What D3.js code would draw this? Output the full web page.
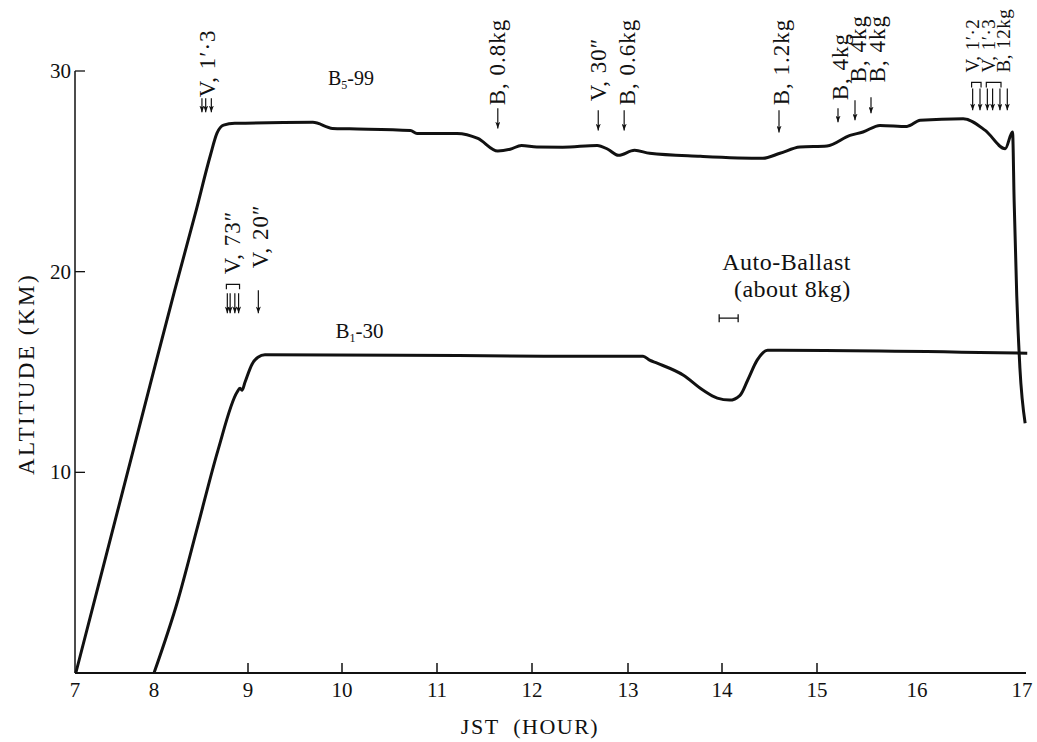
<!DOCTYPE html>
<html>
<head>
<meta charset="utf-8">
<script src="https://cdn.jsdelivr.net/npm/d3@7"></script>
<style>
body { margin: 0; background: #fff; }
text { font-family: "Liberation Serif", "DejaVu Serif", serif; fill: #111; }
</style>
</head>
<body>
<svg id="chart" width="1037" height="742"></svg>
<script>
// balloon B5-99 (hour, km)
var b5Time = [7.01, 7.33, 7.64, 7.95, 8.22, 8.44, 8.60, 8.67, 8.74, 8.86, 9.69, 9.90, 10.08, 10.72, 10.79, 11.21, 11.43, 11.64, 11.77, 11.89, 12.05, 12.32, 12.68, 12.79, 12.90, 13.07, 13.23, 13.77, 14.43, 14.61, 14.82, 15.10, 15.33, 15.46, 15.63, 15.90, 16.03, 16.44, 16.65, 16.84, 16.91, 16.925, 16.95, 16.98, 17.03];
var b5Alt  = [0, 4.88, 9.61, 14.34, 19.07, 22.9, 25.8, 26.9, 27.3, 27.39, 27.44, 27.14, 27.12, 27.04, 26.89, 26.89, 26.64, 26.01, 26.1, 26.29, 26.21, 26.2, 26.29, 26.1, 25.8, 26.05, 25.9, 25.75, 25.65, 25.9, 26.21, 26.26, 26.79, 26.96, 27.29, 27.24, 27.54, 27.62, 27.04, 26.13, 26.96, 23.56, 18.8, 15.2, 12.45];

// balloon B1-30
var b1Time = [8.0, 8.255, 8.468, 8.681, 8.883, 8.915, 8.936, 8.968, 9.043, 9.106, 9.18, 10.61, 12.19, 13.16, 13.23, 13.31, 13.59, 13.80, 13.95, 14.08, 14.19, 14.27, 14.37, 14.48, 14.61, 17.05];
var b1Alt  = [0, 3.64, 7.37, 11.11, 13.99, 14.19, 14.09, 14.49, 15.39, 15.74, 15.86, 15.84, 15.79, 15.79, 15.59, 15.44, 14.84, 14.09, 13.70, 13.60, 13.84, 14.59, 15.59, 16.09, 16.09, 15.94];

var xTicks = [7, 8, 9, 10, 11, 12, 13, 14, 15, 16, 17];
var xTickMarks = [9, 10, 11, 12, 13, 14, 15];
var yTicks = [10, 20, 30];

// event arrows: time, start altitude, tip altitude
var arrowTime = [8.51, 8.55, 8.61, 11.64, 12.69, 12.96, 14.6, 15.21, 15.38, 15.54,
                 16.53, 16.60, 16.67, 16.72, 16.79, 16.86,
                 8.78, 8.81, 8.86, 8.90, 9.11];
var arrowTop  = [28.64, 28.64, 28.64, 28.14, 28.04, 28.04, 28.04, 28.14, 28.54, 28.69,
                 29.13, 29.13, 29.13, 29.13, 29.13, 29.13,
                 18.92, 18.92, 18.92, 18.92, 19.07];
var arrowTip  = [27.94, 27.94, 27.94, 27.14, 27.04, 27.04, 26.94, 27.44, 27.54, 27.89,
                 28.04, 28.04, 28.04, 28.04, 28.04, 28.04,
                 17.93, 17.93, 17.93, 17.93, 17.93];

// vertical event labels
var labelText = ["V, 1\u2032\u00b73", "B, 0.8kg", "V, 30\u2033", "B, 0.6kg", "B, 1.2kg", "B, 4kg", "B, 4kg", "B, 4kg",
                 "V, 1\u2032\u00b72", "V, 1\u2032\u00b73", "B, 12kg", "V, 73\u2033", "V, 20\u2033"];
var labelTime = [8.57, 11.64, 12.69, 12.99, 14.63, 15.23, 15.41, 15.6, 16.53, 16.68, 16.82, 8.84, 9.13];
var labelAlt  = [28.69, 28.29, 28.49, 28.29, 28.29, 28.54, 29.43, 29.43, 29.93, 29.93, 29.93, 19.87, 20.17];
var labelSmall = [false, false, false, false, false, false, false, false, true, true, true, false, false];

// brackets over arrow groups
var bracketFrom = [16.52, 16.66, 8.77];
var bracketTo   = [16.61, 16.80, 8.91];
var bracketAlt  = [29.43, 29.43, 19.37];

// auto-ballast period
var ballastFrom = 13.97, ballastTo = 14.17, ballastAlt = 17.68;

var svg = d3.select("#chart");

var x = d3.scaleLinear()
    .domain(xTicks)
    .range([75, 154, 248, 342, 437, 532, 628, 722, 817, 917, 1022]);

var y = d3.scaleLinear()
    .domain([0, 30])
    .range([673, 71]);

// axes
svg.append("line")
    .attr("x1", x(7)).attr("x2", x(17) + 4)
    .attr("y1", y(0)).attr("y2", y(0))
    .attr("stroke", "#111").attr("stroke-width", 2.2);

svg.append("line")
    .attr("x1", x(7)).attr("x2", x(7))
    .attr("y1", y(0)).attr("y2", y(30))
    .attr("stroke", "#111").attr("stroke-width", 1.5);

svg.selectAll(".xtick")
    .data(xTickMarks)
    .enter()
    .append("line")
    .attr("class", "xtick")
    .attr("x1", d => x(d)).attr("x2", d => x(d))
    .attr("y1", y(0)).attr("y2", y(0) - 10)
    .attr("stroke", "#111").attr("stroke-width", 1.5);

svg.selectAll(".xlab")
    .data(xTicks)
    .enter()
    .append("text")
    .attr("class", "xlab")
    .attr("x", d => x(d))
    .attr("y", y(0) + 24)
    .attr("text-anchor", "middle")
    .style("font-size", "21px")
    .text(d => d);

svg.selectAll(".ytick")
    .data(yTicks)
    .enter()
    .append("line")
    .attr("class", "ytick")
    .attr("x1", x(7)).attr("x2", x(7) + 10)
    .attr("y1", d => y(d)).attr("y2", d => y(d))
    .attr("stroke", "#111").attr("stroke-width", 1.3);

svg.selectAll(".ylab")
    .data(yTicks)
    .enter()
    .append("text")
    .attr("class", "ylab")
    .attr("x", x(7) - 4)
    .attr("y", d => y(d) + 7)
    .attr("text-anchor", "end")
    .style("font-size", "21px")
    .text(d => d);

svg.append("text")
    .attr("x", 530)
    .attr("y", 734)
    .attr("text-anchor", "middle")
    .style("font-size", "22px")
    .style("letter-spacing", "1.5px")
    .style("white-space", "pre")
    .text("JST  (HOUR)");

svg.append("text")
    .attr("transform", "translate(34,374) rotate(-90)")
    .attr("text-anchor", "middle")
    .style("font-size", "23px")
    .style("letter-spacing", "2.5px")
    .text("ALTITUDE (KM)");

// curves
var line = d3.line()
    .x(d => x(d[0]))
    .y(d => y(d[1]))
    .curve(d3.curveMonotoneX);

svg.append("path")
    .datum(d3.zip(b5Time, b5Alt))
    .attr("d", line)
    .attr("fill", "none")
    .attr("stroke", "#111")
    .attr("stroke-width", 3);

svg.append("path")
    .datum(d3.zip(b1Time, b1Alt))
    .attr("d", line)
    .attr("fill", "none")
    .attr("stroke", "#111")
    .attr("stroke-width", 3);

// arrows
svg.append("defs").append("marker")
    .attr("id", "head")
    .attr("viewBox", "0 0 6 8")
    .attr("refX", 3).attr("refY", 8)
    .attr("markerWidth", 5).attr("markerHeight", 7)
    .attr("markerUnits", "userSpaceOnUse")
    .attr("orient", "0")
    .append("path")
    .attr("d", "M0,0 L3,8 L6,0 L3,2 Z")
    .attr("fill", "#111");

svg.selectAll(".arrow")
    .data(arrowTime)
    .enter()
    .append("line")
    .attr("class", "arrow")
    .attr("x1", d => x(d)).attr("x2", d => x(d))
    .attr("y1", (d, i) => y(arrowTop[i]))
    .attr("y2", (d, i) => y(arrowTip[i]))
    .attr("stroke", "#111").attr("stroke-width", 1.2)
    .attr("marker-end", "url(#head)");

svg.selectAll(".bracket")
    .data(bracketFrom)
    .enter()
    .append("path")
    .attr("class", "bracket")
    .attr("d", (d, i) => "M" + x(d) + "," + (y(bracketAlt[i]) + 5) +
        "V" + y(bracketAlt[i]) + "H" + x(bracketTo[i]) + "V" + (y(bracketAlt[i]) + 5))
    .attr("fill", "none")
    .attr("stroke", "#111").attr("stroke-width", 1.2);

svg.selectAll(".evlab")
    .data(labelText)
    .enter()
    .append("text")
    .attr("class", "evlab")
    .attr("transform", (d, i) => "translate(" + x(labelTime[i]) + "," + y(labelAlt[i]) + ") rotate(-90)")
    .attr("dominant-baseline", "central")
    .style("font-size", (d, i) => labelSmall[i] ? "19px" : "23px")
    .style("letter-spacing", (d, i) => labelSmall[i] ? "0.5px" : "1px")
    .text(d => d);

// auto-ballast interval
svg.append("path")
    .attr("d", "M" + x(ballastFrom) + "," + (y(ballastAlt) - 4) + "V" + (y(ballastAlt) + 4) +
        "M" + x(ballastFrom) + "," + y(ballastAlt) + "H" + x(ballastTo) +
        "M" + x(ballastTo) + "," + (y(ballastAlt) - 4) + "V" + (y(ballastAlt) + 4))
    .attr("fill", "none")
    .attr("stroke", "#111").attr("stroke-width", 1.3);

svg.append("text")
    .attr("x", x(14.68))
    .attr("y", y(20.07))
    .attr("text-anchor", "middle")
    .style("font-size", "24px")
    .style("letter-spacing", "0.5px")
    .text("Auto-Ballast");

svg.append("text")
    .attr("x", x(14.74))
    .attr("y", y(18.73))
    .attr("text-anchor", "middle")
    .style("font-size", "24px")
    .style("letter-spacing", "0.5px")
    .text("(about 8kg)");

// balloon names
var n5 = svg.append("text")
    .attr("x", x(9.85))
    .attr("y", y(29.28))
    .style("font-size", "20px");
n5.append("tspan").text("B");
n5.append("tspan").attr("dy", 4).style("font-size", "12px").text("5");
n5.append("tspan").attr("dy", -4).text("-99");

var n1 = svg.append("text")
    .attr("x", x(9.93))
    .attr("y", y(16.68))
    .style("font-size", "21px");
n1.append("tspan").text("B");
n1.append("tspan").attr("dy", 4).style("font-size", "12px").text("1");
n1.append("tspan").attr("dy", -4).text("-30");
</script>
</body>
</html>
